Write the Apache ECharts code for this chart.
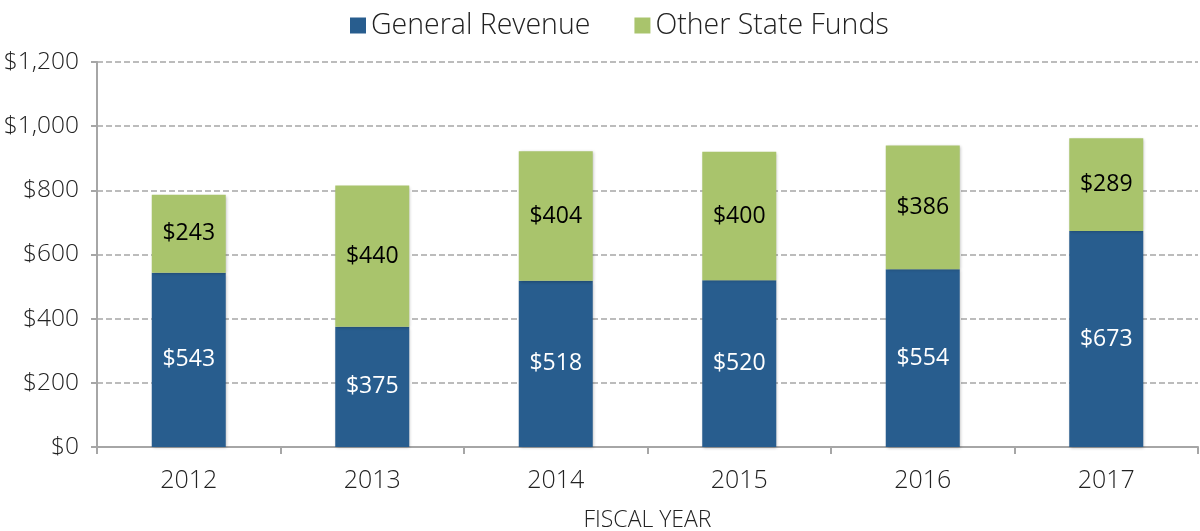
<!DOCTYPE html>
<html><head><meta charset="utf-8">
<script src="https://cdn.jsdelivr.net/npm/echarts@6/dist/echarts.min.js"></script>
<style>html,body{margin:0;padding:0;background:#fff}#c{width:1200px;height:531px}</style>
</head><body><div id="c"></div>
<script>
const years = ['2012','2013','2014','2015','2016','2017'];
const generalRevenue = [543,375,518,520,554,673];
const otherStateFunds = [243,440,404,400,386,289];
const yTicks = {min:0, max:1200, interval:200};

const FONT = '"Open Sans", "Noto Sans", sans-serif';
const chart = echarts.init(document.getElementById('c'));
const fmt = v => '$' + v.toLocaleString('en-US');
chart.setOption({
  animation:false,
  textStyle:{fontFamily:FONT},
  legend:{top:6,left:345,itemWidth:16,itemHeight:16,itemGap:44,icon:'rect',
    textStyle:{fontSize:28.5,color:'#222',fontFamily:FONT,fontWeight:300,padding:[0,0,0,0]},
    data:['General Revenue','Other State Funds']},
  grid:{left:97,right:2,top:62,bottom:84,containLabel:false,outerBoundsMode:'none'},
  xAxis:{type:'category',data:years,
    name:'FISCAL YEAR',nameLocation:'middle',nameGap:62,
    nameTextStyle:{fontSize:23,color:'#222',fontFamily:FONT,fontWeight:300},
    axisLine:{lineStyle:{color:'#a6a6a6',width:2}},
    axisTick:{show:true,length:7,lineStyle:{color:'#a6a6a6',width:2}},
    axisLabel:{fontSize:25,color:'#222',margin:21,fontFamily:FONT,fontWeight:300}},
  yAxis:{type:'value',min:yTicks.min,max:yTicks.max,interval:yTicks.interval,
    axisLine:{show:true,lineStyle:{color:'#a6a6a6',width:2}},
    axisTick:{show:true,length:6,lineStyle:{color:'#a6a6a6',width:2}},
    splitLine:{lineStyle:{color:'#a6a6a6',type:[6,3],width:1.5}},
    axisLabel:{fontSize:24.5,color:'#222',margin:18,fontFamily:FONT,fontWeight:300,formatter:fmt}},
  series:[
    {name:'General Revenue',type:'bar',stack:'t',data:generalRevenue,barWidth:74,
     itemStyle:{color:'#285d8e',shadowColor:'rgba(0,0,0,0.25)',shadowBlur:3,shadowOffsetX:1,shadowOffsetY:1},
     label:{show:true,position:'inside',color:'#fff',fontSize:23,fontFamily:FONT,formatter:p=>fmt(p.value)}},
    {name:'Other State Funds',type:'bar',stack:'t',data:otherStateFunds,barWidth:74,
     itemStyle:{color:'#a9c46c',shadowColor:'rgba(0,0,0,0.25)',shadowBlur:3,shadowOffsetX:1,shadowOffsetY:1},
     label:{show:true,position:'inside',color:'#000',fontSize:23,fontFamily:FONT,formatter:p=>fmt(p.value)}}
  ]
});
</script></body></html>
